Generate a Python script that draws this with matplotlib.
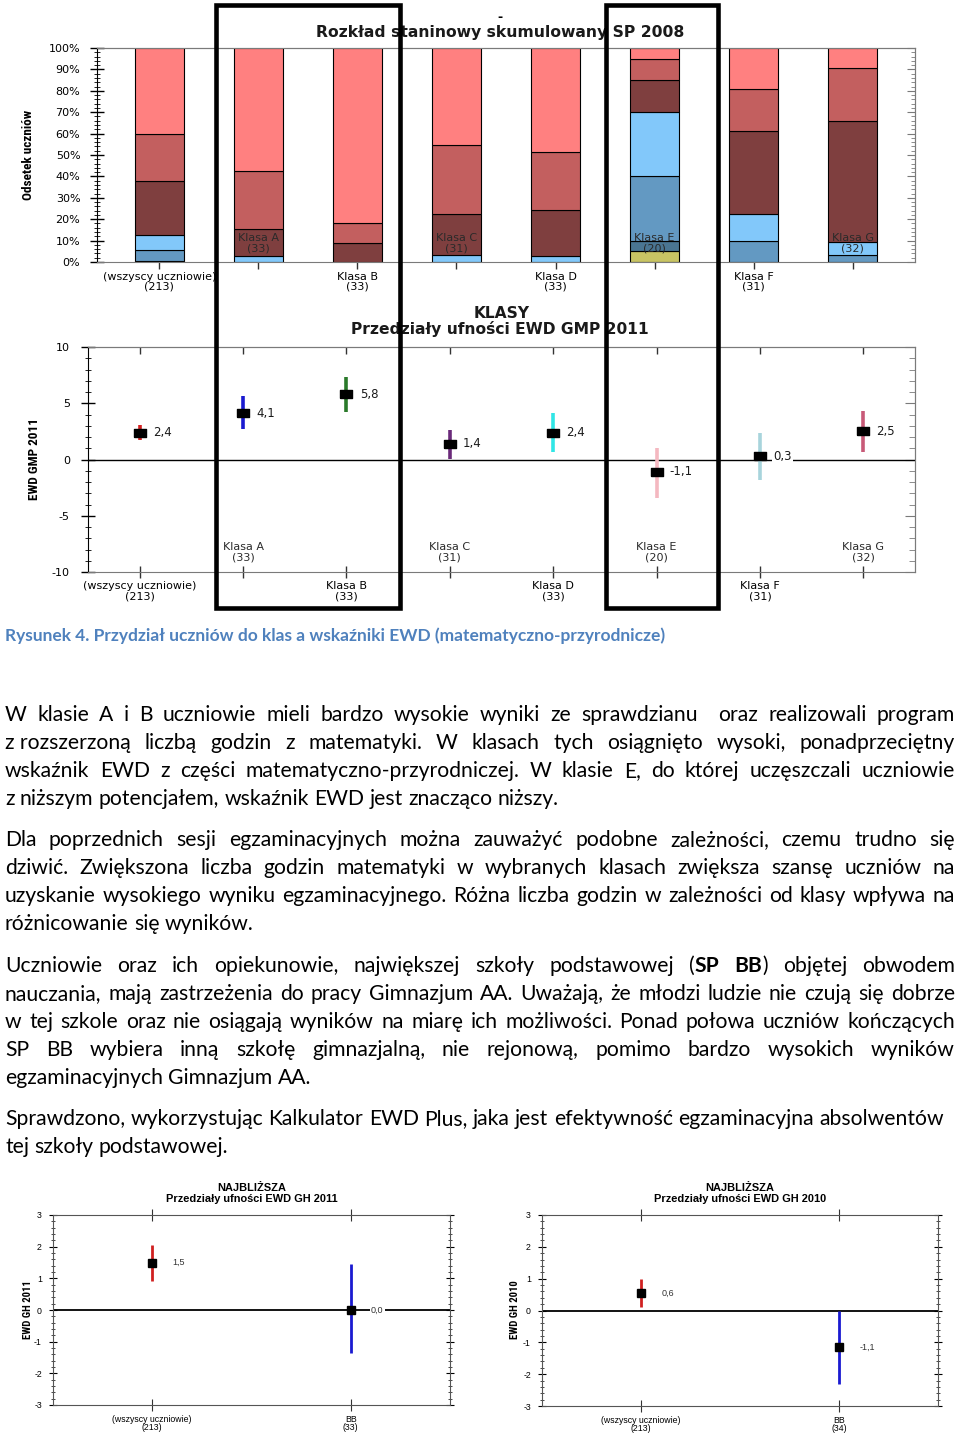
import matplotlib
matplotlib.use('Agg')
import matplotlib.pyplot as plt
import numpy as np
from matplotlib import font_manager as fm
from matplotlib.font_manager import FontProperties
from matplotlib.patches import Rectangle
from matplotlib.ticker import MultipleLocator, FuncFormatter

# ---------------- data ----------------
stanin_cats = ["(wszyscy uczniowie)\n(213)", "Klasa A\n(33)", "Klasa B\n(33)", "Klasa C\n(31)",
               "Klasa D\n(33)", "Klasa E\n(20)", "Klasa F\n(31)", "Klasa G\n(32)"]
stanin_1 = [0.5, 0, 0, 0, 0, 5.0, 0, 0]
stanin_2 = [0, 0, 0, 0, 0, 5.0, 0, 0]
stanin_3 = [5.3, 0, 0, 0, 0, 30.0, 9.7, 3.1]
stanin_4 = [6.7, 3.0, 0, 3.2, 3.0, 30.0, 12.9, 6.3]
stanin_5 = [25.3, 12.2, 9.1, 19.4, 21.2, 15.0, 38.7, 56.3]
stanin_6 = [21.8, 27.3, 9.1, 32.3, 27.3, 10.0, 19.4, 25.0]
stanin_7 = [40.4, 57.5, 81.8, 45.1, 48.5, 5.0, 19.3, 9.3]

ewd_cats = stanin_cats
ewd_gmp = [2.4, 4.1, 5.8, 1.4, 2.4, -1.1, 0.3, 2.5]
ewd_gmp_lo = [1.7, 2.7, 4.25, 0.05, 0.7, -3.4, -1.85, 0.7]
ewd_gmp_hi = [3.1, 5.65, 7.35, 2.6, 4.1, 1.05, 2.4, 4.35]

gh_cats_2011 = ["(wszyscy uczniowie)\n(213)", "BB\n(33)"]
gh_2011 = [1.5, 0.0]
gh_2011_lo = [0.92, -1.37]
gh_2011_hi = [2.05, 1.44]

gh_cats_2010 = ["(wszyscy uczniowie)\n(213)", "BB\n(34)"]
gh_2010 = [0.55, -1.15]
gh_2010_lo = [0.10, -2.30]
gh_2010_hi = [0.98, 0.0]

caption = "Rysunek 4. Przydział uczniów do klas a wskaźniki EWD (matematyczno-przyrodnicze)"
paragraphs = [
    [("W klasie A i B uczniowie mieli bardzo wysokie wyniki ze sprawdzianu  oraz realizowali program", True),
     ("z\u00a0rozszerzoną liczbą godzin z matematyki. W klasach tych osiągnięto wysoki, ponadprzeciętny", True),
     ("wskaźnik EWD z części matematyczno-przyrodniczej. W klasie E, do której uczęszczali uczniowie", True),
     ("z niższym potencjałem, wskaźnik EWD jest znacząco niższy.", False)],
    [("Dla poprzednich sesji egzaminacyjnych można zauważyć podobne zależności, czemu trudno się", True),
     ("dziwić. Zwiększona liczba godzin matematyki w wybranych klasach zwiększa szansę uczniów na", True),
     ("uzyskanie wysokiego wyniku egzaminacyjnego. Różna liczba godzin w zależności od klasy wpływa na", True),
     ("różnicowanie się wyników.", False)],
    [("Uczniowie oraz ich opiekunowie, największej szkoły podstawowej (*SP BB*) objętej obwodem", True),
     ("nauczania, mają zastrzeżenia do pracy Gimnazjum AA. Uważają, że młodzi ludzie nie czują się dobrze", True),
     ("w tej szkole oraz nie osiągają wyników na miarę ich możliwości. Ponad połowa uczniów kończących", True),
     ("SP BB wybiera inną szkołę gimnazjalną, nie rejonową, pomimo bardzo wysokich wyników", True),
     ("egzaminacyjnych Gimnazjum AA.", False)],
    [("Sprawdzono, wykorzystując Kalkulator EWD Plus, jaka jest efektywność egzaminacyjna absolwentów", False),
     ("tej szkoły podstawowej.", False)],
]
paragraph_baselines = [[721, 749, 777, 805], [846, 874, 902, 930],
                       [972, 1000, 1028, 1056, 1084], [1125, 1153]]

# ---------------- setup ----------------
W, H = 960, 1435
plt.rcParams['font.family'] = ['DejaVu Sans']
fig = plt.figure(figsize=(W / 100, H / 100), dpi=100)
fig.patch.set_facecolor('white')
renderer = fig.canvas.get_renderer()

flist = fm.fontManager.ttflist
avail = {f.name for f in flist}
BODY = 'Lato' if 'Lato' in avail else 'DejaVu Sans'


def find_narrow():
    for name in ('Liberation Sans Narrow', 'Arial Narrow', 'Roboto Condensed',
                 'Open Sans Condensed', 'Noto Sans Condensed'):
        if name in avail:
            return dict(family=name, weight='bold'), 1.0
    for f in flist:
        if f.name in ('Noto Sans', 'DejaVu Sans', 'Open Sans', 'Roboto') and \
                'condensed' in str(f.stretch) and 'semi' not in str(f.stretch):
            return dict(family=f.name, stretch=f.stretch, weight='bold'), 1.0
    return dict(family='Liberation Sans', weight='bold'), 1.13


NARROW_FP, NARROW_F = find_narrow()


def twidth(s, fp):
    w, h, d = renderer.get_text_width_height_descent(s, fp, ismath=False)
    return w


def fit_fp(s, target_px, **kw):
    fp = FontProperties(size=10, **kw)
    return FontProperties(size=10 * target_px / twidth(s, fp), **kw)


def px_ax(x0, y0, x1, y1):
    return fig.add_axes([x0 / W, 1 - y1 / H, (x1 - x0) / W, (y1 - y0) / H])


def ftext(x, y, s, **kw):
    return fig.text(x / W, 1 - y / H, s, **kw)


def fmt(v):
    return f"{v:.1f}".replace('.', ',')


FRAME = '#7a7a7a'

# ---------------- chart 1: stanine stacked bars ----------------
ax1 = px_ax(97, 48, 915, 262)
stanin_colors = ['#c8c464', '#4a7592', '#6399c2', '#82c8fa', '#7f3f3f', '#c35f5f', '#ff8080']
x = np.arange(len(stanin_cats))
bottom = np.zeros(len(x))
for vals, col in zip([stanin_1, stanin_2, stanin_3, stanin_4, stanin_5, stanin_6, stanin_7], stanin_colors):
    vals = np.array(vals, dtype=float)
    m = vals > 0
    ax1.bar(x[m], vals[m], 0.5, bottom=bottom[m], color=col, edgecolor='black', linewidth=0.8, zorder=2)
    bottom += vals
ax1.set_xlim(-0.63, 7.63)
ax1.set_ylim(0, 100)
for s in ['top', 'right', 'bottom']:
    ax1.spines[s].set_color(FRAME)
ax1.spines['left'].set_color('black')
ax1.yaxis.set_major_locator(MultipleLocator(10))
ax1.yaxis.set_minor_locator(MultipleLocator(2))
ax1.yaxis.set_major_formatter(FuncFormatter(lambda v, _: f"{v:.0f}%"))
ax1.tick_params(axis='y', which='major', direction='inout', length=10, width=1, pad=7, labelsize=8)
ax1.tick_params(axis='y', which='minor', direction='inout', length=5, width=0.6)
ax1.set_xticks(x)
ax1.set_xticklabels([c if i % 2 == 0 else '' for i, c in enumerate(stanin_cats)], linespacing=1.0)
ax1.tick_params(axis='x', direction='out', length=5, width=1, pad=2, labelsize=8, color='#333333')
for i, c in enumerate(stanin_cats):
    if i % 2 == 1:
        ax1.text(i, 8.8, c, ha='center', va='center', fontsize=8, color='#2a2a2a', zorder=5, linespacing=1.0)
sx = ax1.secondary_xaxis('top')
sx.set_xticks(x)
sx.set_xticklabels([])
sx.tick_params(direction='in', length=5, width=1, color='#333333')
sx.spines['top'].set_color(FRAME)
sy = ax1.secondary_yaxis('right')
sy.yaxis.set_major_locator(MultipleLocator(10))
sy.yaxis.set_minor_locator(MultipleLocator(2))
sy.set_yticklabels([])
sy.tick_params(which='major', direction='in', length=6, width=0.8, color=FRAME)
sy.tick_params(which='minor', direction='in', length=3, width=0.6, color=FRAME)
sy.spines['right'].set_color(FRAME)
title1 = "Rozkład staninowy skumulowany SP 2008"
ftext(500, 18, "-", ha='center', va='center', fontsize=9, fontweight='bold')
ftext(500.5, 32, title1, ha='center', va='center', color='#1a1a1a',
      fontproperties=fit_fp(title1, 369, family='DejaVu Sans', weight='bold'))
ylab1 = "Odsetek uczniów"
ftext(29, 155, ylab1, rotation=90, ha='center', va='center',
      fontproperties=fit_fp(ylab1, 90 * NARROW_F, **NARROW_FP))

# ---------------- chart 2: EWD GMP 2011 ----------------
ax2 = px_ax(88, 347, 915, 572)
ci_colors = ['#d42020', '#1a1ad0', '#2a7a2a', '#6a2a7a', '#30e6e6', '#f4b8c0', '#a8d4dc', '#c85a78']
x2 = np.arange(len(ewd_cats))
ax2.axhline(0, color='black', lw=1.0, zorder=1)
ax2.vlines(x2, ewd_gmp_lo, ewd_gmp_hi, colors=ci_colors, lw=2.6, zorder=2)
rect_marker = [(-1, -0.62), (1, -0.62), (1, 0.62), (-1, 0.62), (-1, -0.62)]
ax2.plot(x2, ewd_gmp, linestyle='none', marker=rect_marker, ms=8.5, color='black', zorder=3)
for xi, v in zip(x2, ewd_gmp):
    ax2.annotate(fmt(v), (xi, v), xytext=(9.5, 0), textcoords='offset points', ha='left', va='center',
                 fontsize=8.5, color='#1a1a1a', zorder=4,
                 bbox=dict(boxstyle='square,pad=0.1', fc='white', ec='none'))
ax2.set_xlim(-0.5, 7.5)
ax2.set_ylim(-10, 10)
for s in ['top', 'right', 'bottom']:
    ax2.spines[s].set_color(FRAME)
ax2.spines['left'].set_color('black')
ax2.yaxis.set_major_locator(MultipleLocator(5))
ax2.yaxis.set_minor_locator(MultipleLocator(1))
ax2.yaxis.set_major_formatter(FuncFormatter(lambda v, _: f"{v:.0f}"))
ax2.tick_params(axis='y', which='major', direction='inout', length=10, width=1, pad=8, labelsize=8)
ax2.tick_params(axis='y', which='minor', direction='inout', length=5, width=0.6)
ax2.set_xticks(x2)
ax2.set_xticklabels([c if i % 2 == 0 else '' for i, c in enumerate(ewd_cats)], linespacing=1.0)
ax2.tick_params(axis='x', direction='inout', length=9, width=1, pad=2, labelsize=8, color='#333333')
for i, c in enumerate(ewd_cats):
    if i % 2 == 1:
        ax2.text(i, -8.25, c, ha='center', va='center', fontsize=8, color='#2a2a2a', zorder=5, linespacing=1.0)
sx2 = ax2.secondary_xaxis('top')
sx2.set_xticks(x2)
sx2.set_xticklabels([])
sx2.tick_params(direction='in', length=5, width=1, color='#333333')
sx2.spines['top'].set_color(FRAME)
sy2 = ax2.secondary_yaxis('right')
sy2.yaxis.set_major_locator(MultipleLocator(5))
sy2.yaxis.set_minor_locator(MultipleLocator(1))
sy2.set_yticklabels([])
sy2.tick_params(which='major', direction='in', length=7, width=0.8, color=FRAME)
sy2.tick_params(which='minor', direction='in', length=4, width=0.6, color=FRAME)
sy2.spines['right'].set_color(FRAME)
title2 = "Przedziały ufności EWD GMP 2011"
fp_t2 = fit_fp(title2, 299, family='DejaVu Sans', weight='bold')
ftext(502, 313, "KLASY", ha='center', va='center', color='#1a1a1a', fontproperties=fp_t2)
ftext(499.5, 329, title2, ha='center', va='center', color='#1a1a1a', fontproperties=fp_t2)
ylab2 = "EWD GMP 2011"
ftext(34, 459, ylab2, rotation=90, ha='center', va='center',
      fontproperties=fit_fp(ylab2, 82 * NARROW_F, **NARROW_FP))

# ---------------- highlight boxes ----------------
for (bx0, bx1) in [(215.5, 400), (606, 718)]:
    fig.add_artist(Rectangle((bx0 / W, 1 - 608 / H), (bx1 - bx0) / W, (608 - 5) / H,
                             transform=fig.transFigure, fill=False, lw=3.3, ec='black', zorder=10))


# ---------------- bottom charts ----------------
def small_chart(box, cats, vals, lo, hi, title, ylabel, ylabel_x):
    ax = px_ax(*box)
    xs = np.arange(len(cats))
    ax.axhline(0, color='black', lw=1.3, zorder=1)
    ax.vlines(xs, lo, hi, colors=['#d02020', '#1a1ad0'], lw=2.0, zorder=2)
    ax.plot(xs, vals, linestyle='none', marker='s', ms=5.5, color='black', zorder=3)
    for xi, v in zip(xs, vals):
        ax.annotate(fmt(v), (xi, v), xytext=(14.5, 0), textcoords='offset points', ha='left', va='center',
                    fontsize=6.5, family='Liberation Sans', color='#333333', zorder=4,
                    bbox=dict(boxstyle='square,pad=0.15', fc='white', ec='none'))
    ax.set_xlim(-0.5, 1.5)
    ax.set_ylim(-3, 3)
    for s in ax.spines.values():
        s.set_color('#555555')
    ax.yaxis.set_major_locator(MultipleLocator(1))
    ax.yaxis.set_minor_locator(MultipleLocator(0.2))
    ax.yaxis.set_major_formatter(FuncFormatter(lambda v, _: f"{v:.0f}"))
    ax.tick_params(axis='y', which='major', direction='inout', length=6, width=0.8, pad=5,
                   labelsize=6.3, right=True)
    ax.tick_params(axis='y', which='minor', direction='inout', length=3, width=0.5, right=True)
    ax.set_xticks(xs)
    ax.set_xticklabels(cats, linespacing=0.95, family='Liberation Sans')
    ax.tick_params(axis='x', direction='inout', length=8, width=0.8, pad=3, labelsize=6.3,
                   top=True, color='#333333')
    for lbl in ax.get_yticklabels():
        lbl.set_family('Liberation Sans')
    cx = (box[0] + box[2]) / 2
    fp_t = fit_fp(title[1], 172, family='Liberation Sans', weight='bold')
    ftext(cx, 1188, title[0], ha='center', va='center', fontproperties=fp_t)
    ftext(cx, 1199.5, title[1], ha='center', va='center', fontproperties=fp_t)
    ftext(ylabel_x, 1310, ylabel, rotation=90, ha='center', va='center',
          fontproperties=fit_fp(ylabel, 59 * NARROW_F, **NARROW_FP))
    return ax


small_chart((53, 1215, 450, 1405), gh_cats_2011, gh_2011, gh_2011_lo, gh_2011_hi,
            ("NAJBLIŻSZA", "Przedziały ufności EWD GH 2011"), "EWD GH 2011", 28)
small_chart((542, 1215, 938, 1406), gh_cats_2010, gh_2010, gh_2010_lo, gh_2010_hi,
            ("NAJBLIŻSZA", "Przedziały ufności EWD GH 2010"), "EWD GH 2010", 515)

# ---------------- text ----------------
fp10 = FontProperties(family=[BODY, 'DejaVu Sans'], size=10)
body_size = 10 * 940 / twidth(paragraphs[3][0][0], fp10)
fp_reg = FontProperties(family=[BODY, 'DejaVu Sans'], size=body_size)
fp_bold = FontProperties(family=[BODY, 'DejaVu Sans'], size=body_size, weight='bold')

ftext(5, 641, caption, ha='left', va='baseline', color='#4f81bd',
      fontproperties=fit_fp(caption, 661, family=[BODY, 'DejaVu Sans'], weight='bold'))

space_w = twidth("x x", fp_reg) - twidth("xx", fp_reg)
X0, X1 = 5, 955
for para, bases in zip(paragraphs, paragraph_baselines):
    bold = False
    for (line, justify), yb in zip(para, bases):
        words = []
        for tok in line.split(' '):
            segs = []
            for k, p in enumerate(tok.split('*')):
                if k > 0:
                    bold = not bold
                if p:
                    segs.append((p, fp_bold if bold else fp_reg))
            words.append(segs)
        widths = [sum(twidth(p, f) for p, f in segs) for segs in words]
        if justify and len(words) > 1:
            gap = (X1 - X0 - sum(widths)) / (len(words) - 1)
        else:
            gap = space_w
        xx = X0
        for segs, wd in zip(words, widths):
            sx_ = xx
            for p, f in segs:
                ftext(sx_, yb, p, ha='left', va='baseline', fontproperties=f, color='black')
                sx_ += twidth(p, f)
            xx += wd + gap

fig.savefig('out.png', dpi=100, facecolor='white')
